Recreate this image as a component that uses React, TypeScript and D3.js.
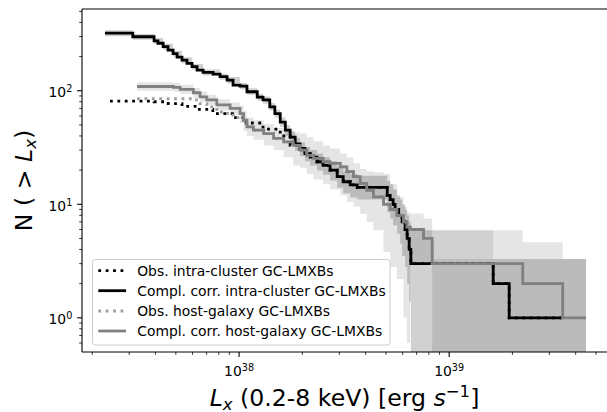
import React from 'react';
import * as d3 from 'd3';

// ---------- data (L in erg/s, N = cumulative number) ----------
const intraCorrL = [2.30e37, 3.12e37, 3.94e37, 4.11e37, 4.35e37, 4.59e37, 4.85e37, 5.07e37, 5.35e37, 5.65e37, 5.97e37, 6.31e37, 6.74e37, 7.52e37, 8.12e37, 8.77e37, 9.36e37, 1.01e38, 1.09e38, 1.22e38, 1.30e38, 1.40e38, 1.48e38, 1.57e38, 1.66e38, 1.75e38, 1.85e38, 1.95e38, 2.06e38, 2.18e38, 2.35e38, 2.51e38, 2.71e38, 2.93e38, 3.13e38, 3.38e38, 3.65e38, 5.07e38, 5.24e38, 5.41e38, 5.53e38, 5.75e38, 5.97e38, 6.17e38, 6.31e38, 6.45e38, 6.57e38, 1.62e39, 1.93e39, 3.45e39];
const intraCorrN = [322, 299, 275, 262, 245, 228, 212, 198, 186, 174, 163, 152, 145, 140, 133, 124, 112, 110, 98, 88, 83, 72, 63, 53, 45, 39, 34, 31, 28, 26, 23.7, 22, 20, 17.5, 15.8, 14.8, 14.1, 12, 11, 10, 9, 8, 7, 6, 5, 4, 3, 2, 1, 1];

const intraObsL = [2.43e37, 3.94e37, 4.6e37, 5.35e37, 6.3e37, 7.5e37, 9.3e37, 1.08e38, 1.3e38, 1.57e38, 1.75e38, 1.95e38, 2.18e38, 2.35e38, 2.51e38, 2.71e38, 2.93e38, 3.13e38, 3.38e38, 3.65e38, 5.07e38, 5.24e38, 5.41e38, 5.53e38, 5.75e38, 5.97e38, 6.17e38, 6.31e38, 6.45e38, 6.57e38, 1.62e39, 1.93e39, 3.45e39];
const intraObsN = [81, 80, 77, 73, 68.5, 63, 58, 52, 46, 40, 33, 29, 26, 23.7, 22, 20, 17.5, 15.8, 14.8, 14.1, 12, 11, 10, 9, 8, 7, 6, 5, 4, 3, 2, 1, 1];

const hostCorrL = [3.27e37, 4.87e37, 5.24e37, 6.06e37, 6.52e37, 7.02e37, 7.83e37, 9.06e37, 1.01e38, 1.05e38, 1.09e38, 1.17e38, 1.31e38, 1.46e38, 1.63e38, 1.81e38, 1.95e38, 2.1e38, 2.26e38, 2.51e38, 2.71e38, 3.03e38, 3.26e38, 3.5e38, 3.77e38, 4.05e38, 4.36e38, 4.87e38, 5.24e38, 5.63e38, 6.06e38, 6.29e38, 6.52e38, 7.55e38, 8.3e38, 2.24e39, 3.47e39, 4.48e39];
const hostCorrN = [109, 107, 103, 96, 88.5, 83, 75, 70, 63, 55, 48, 45, 42, 38, 35.5, 33, 30, 27, 25.4, 23.7, 22.9, 21.4, 19.4, 17.5, 15.3, 13.3, 11.6, 10, 9, 8, 7, 6.3, 6, 5, 3, 2, 1, 1];

const hostObsL = [3.27e37, 6.06e37, 6.52e37, 7.02e37, 7.83e37, 8.8e37, 9.4e37, 1.05e38, 1.09e38, 1.17e38, 1.31e38, 1.46e38, 1.63e38, 1.81e38, 1.95e38, 2.1e38, 2.26e38, 2.51e38, 2.71e38, 3.03e38, 3.26e38, 3.5e38, 3.77e38, 4.05e38, 4.36e38, 4.87e38, 5.24e38, 5.63e38, 6.06e38, 6.29e38, 6.52e38, 7.55e38, 8.3e38, 2.24e39, 3.47e39, 4.48e39];
const hostObsN = [85, 83, 77, 72, 65, 61, 58, 55, 48, 45, 42, 38, 35.5, 33, 30, 27, 25.4, 23.7, 22.9, 21.4, 19.4, 17.5, 15.3, 13.3, 11.6, 10, 9, 8, 7, 6.3, 6, 5, 3, 2, 1, 1];

// confidence bands (lower / upper N)
const intraBandL = [2.30e37, 3.12e37, 3.94e37, 4.35e37, 4.85e37, 5.35e37, 5.97e37, 6.74e37, 8.12e37, 8.77e37, 1.01e38, 1.09e38, 1.22e38, 1.30e38, 1.40e38, 1.48e38, 1.57e38, 1.66e38, 1.75e38, 1.85e38, 1.95e38, 2.06e38, 2.18e38, 2.35e38, 2.51e38, 2.71e38, 2.93e38, 3.13e38, 3.38e38, 3.65e38, 5.07e38, 5.24e38, 5.41e38, 5.65e38, 5.84e38, 5.97e38, 6.17e38, 6.31e38, 6.45e38, 6.57e38, 1.62e39, 4.48e39];
const intraBandLo = [302, 281, 258, 230, 199, 175, 153, 136, 125, 116, 103, 92, 82, 77, 67, 58, 48, 40, 34, 29.5, 26.5, 24, 22, 19.8, 18.2, 16.2, 14, 12.5, 11.5, 11, 8.5, 7.5, 6.5, 5.5, 4.5, 3.5, 2.8, 2.0, 1.4, 0.1, 0.1, 0.1];
const intraBandHi = [342, 317, 292, 260, 225, 197, 172, 154, 141, 132, 117, 105, 94, 89, 78, 68, 58, 50, 44, 38.5, 35, 32, 30, 28, 26, 24, 21.5, 19.5, 18.5, 17.8, 16, 15, 13.5, 12, 11, 10, 9, 8, 7, 5.92, 3.3, 3.3];

const hostBandL = [3.27e37, 4.87e37, 5.24e37, 6.06e37, 6.52e37, 7.02e37, 7.83e37, 9.06e37, 1.01e38, 1.05e38, 1.09e38, 1.17e38, 1.31e38, 1.46e38, 1.63e38, 1.81e38, 1.95e38, 2.1e38, 2.26e38, 2.51e38, 2.71e38, 3.03e38, 3.26e38, 3.5e38, 3.77e38, 4.05e38, 4.36e38, 4.87e38, 5.24e38, 5.63e38, 6.06e38, 6.29e38, 6.52e38, 7.55e38, 8.3e38, 1.62e39, 2.24e39, 3.47e39, 4.48e39];
const hostBandLo = [100, 98, 94, 87, 80, 75, 67, 62, 52, 44, 40, 37, 33, 30, 26, 22, 21, 18.5, 16.5, 15, 13.5, 12, 10.5, 9.5, 8.2, 7, 5.9, 3.8, 2.8, 2.2, 1.0, 0.6, 3.0, 3.0, 0.1, 0.1, 0.1, 0.1, 0.1];
const hostBandHi = [119, 117, 113, 106, 98, 92, 84, 79, 74, 66, 58, 55, 51, 47, 45, 43, 42, 39, 36, 33, 31, 28, 26, 23, 20.5, 19.5, 19.2, 18.5, 15, 11.6, 9.5, 8.5, 8.3, 7.5, 3.3, 5.92, 4.64, 3.3, 3.3];

const xMajor = [1e38, 1e39];
const xMajorExp = ['38', '39'];
const yMajor = [1, 10, 100];
const yMajorExp = ['0', '1', '2'];

const legendLabels = [
  'Obs. intra-cluster GC-LMXBs',
  'Compl. corr. intra-cluster GC-LMXBs',
  'Obs. host-galaxy GC-LMXBs',
  'Compl. corr. host-galaxy GC-LMXBs',
];

// ---------- layout ----------
const W = 607, H = 412;
const PL = 82, PR = 608, PT = 9, PB = 352;
const FONT = 'DejaVu Sans';

export default function App() {
  const x = d3.scaleLog().domain([1.788e37, 5.7e39]).range([PL, PR]);
  const y = d3.scaleLog().domain([0.5, 525]).range([PB, PT]);

  const stepLine = (Ls: number[], Ns: number[]) =>
    d3.line<number>()
      .x((i) => x(Ls[i]))
      .y((i) => y(Ns[i]))
      .curve(d3.curveStepAfter)(Ls.map((_, i) => i)) as string;

  const stepArea = (Ls: number[], lo: number[], hi: number[]) =>
    d3.area<number>()
      .x((i) => x(Ls[i]))
      .y0((i) => y(lo[i]))
      .y1((i) => y(hi[i]))
      .curve(d3.curveStepAfter)(Ls.map((_, i) => i)) as string;

  const [x0, x1] = x.domain();
  const xMinor: number[] = [];
  for (let e = 37; e <= 39; e++) for (let m = 2; m <= 9; m++) {
    const v = m * Math.pow(10, e);
    if (v > x0 && v < x1) xMinor.push(v);
  }
  const yMinor: number[] = [];
  for (let e = -1; e <= 2; e++) for (let m = 2; m <= 9; m++) {
    const v = m * Math.pow(10, e);
    if (v > 0.5 && v < 525) yMinor.push(v);
  }

  const lw = 2.8;

  const legendRows = [270.7, 290.7, 311, 331];
  const legendStyles = [
    { stroke: '#000', dash: '2.8 4.6' },
    { stroke: '#000', dash: null },
    { stroke: '#a0a0a0', dash: '2.8 4.6' },
    { stroke: '#808080', dash: null },
  ];

  return (
    <div style={{ position: 'absolute', left: 0, top: 0 }}>
      <svg width={W} height={H} style={{ display: 'block', fontFamily: FONT }}>
        <defs>
          <clipPath id="plotclip">
            <rect x={PL} y={PT} width={PR - PL} height={PB - PT} />
          </clipPath>
        </defs>
        <rect x={0} y={0} width={W} height={H} fill="#fff" />
        <g clipPath="url(#plotclip)">
          <path d={stepArea(hostBandL, hostBandLo, hostBandHi)} fill="#000" fillOpacity={0.1} stroke="none" />
          <path d={stepArea(intraBandL, intraBandLo, intraBandHi)} fill="#000" fillOpacity={0.18} stroke="none" />
          <path d={stepLine(intraCorrL, intraCorrN)} fill="none" stroke="#000" strokeWidth={lw} />
          <path d={stepLine(intraObsL, intraObsN)} fill="none" stroke="#000" strokeWidth={lw} strokeDasharray="2.8 4.6" />
          <path d={stepLine(hostObsL, hostObsN)} fill="none" stroke="#a0a0a0" strokeWidth={lw} strokeDasharray="2.8 4.6" />
          <path d={stepLine(hostCorrL, hostCorrN)} fill="none" stroke="#808080" strokeWidth={lw} />
        </g>

        {/* spines */}
        <line x1={PL} x2={PL} y1={PT} y2={PB} stroke="#000" strokeWidth={1.1} />
        <line x1={PL} x2={PR} y1={PT} y2={PT} stroke="#000" strokeWidth={1.1} />
        <line x1={PL} x2={PR} y1={PB} y2={PB} stroke="#000" strokeWidth={1.1} />

        {/* x ticks */}
        {xMinor.map((v) => (
          <line key={'xm' + v} x1={x(v)} x2={x(v)} y1={PB} y2={PB + 2.8} stroke="#000" strokeWidth={0.8} />
        ))}
        {xMajor.map((v, i) => (
          <g key={'xM' + v}>
            <line x1={x(v)} x2={x(v)} y1={PB} y2={PB + 4.9} stroke="#000" strokeWidth={1.1} />
            <text x={x(v)} y={376} textAnchor="middle" fontSize={13.9} fill="#000">
              10<tspan dy={-5.2} fontSize={9.7}>{xMajorExp[i]}</tspan>
            </text>
          </g>
        ))}

        {/* y ticks */}
        {yMinor.map((v) => (
          <line key={'ym' + v} x1={PL - 2.8} x2={PL} y1={y(v)} y2={y(v)} stroke="#000" strokeWidth={0.8} />
        ))}
        {yMajor.map((v, i) => (
          <g key={'yM' + v}>
            <line x1={PL - 4.9} x2={PL} y1={y(v)} y2={y(v)} stroke="#000" strokeWidth={1.1} />
            <text x={72.3} y={y(v) + 6.6} textAnchor="end" fontSize={13.9} fill="#000">
              10<tspan dy={-5.2} fontSize={9.7}>{yMajorExp[i]}</tspan>
            </text>
          </g>
        ))}

        {/* axis labels */}
        <text x={344.5} y={406} textAnchor="middle" fontSize={23.6} fill="#000" style={{ whiteSpace: 'pre' }}>
          <tspan fontStyle="italic">L</tspan>
          <tspan fontStyle="italic" fontSize={16.5} dy={3.5}>x</tspan>
          <tspan dy={-3.5}>{' (0.2-8 keV) [erg '}</tspan>
          <tspan fontStyle="italic">s</tspan>
          <tspan fontSize={16.5} dy={-9.5}>{'\u22121'}</tspan>
          <tspan dy={9.5}>]</tspan>
        </text>
        <text transform={`translate(32,180.5) rotate(-90)`} textAnchor="middle" fontSize={23.6} fill="#000" style={{ whiteSpace: 'pre' }}>
          <tspan>{'N ( > '}</tspan>
          <tspan fontStyle="italic">L</tspan>
          <tspan fontStyle="italic" fontSize={16.5} dy={3.5}>x</tspan>
          <tspan dy={-3.5}>)</tspan>
        </text>

        {/* legend */}
        <rect x={92.5} y={259.5} width={297.5} height={85.5} rx={2.8} ry={2.8} fill="#fff" fillOpacity={0.8} stroke="#cccccc" strokeWidth={1} />
        {legendLabels.map((lab, i) => (
          <g key={lab}>
            <line x1={98.3} x2={126.1} y1={legendRows[i]} y2={legendRows[i]} stroke={legendStyles[i].stroke} strokeWidth={lw}
              strokeDasharray={legendStyles[i].dash || undefined} />
            <text x={137.2} y={legendRows[i] + 5} fontSize={13.9} fill="#000">{lab}</text>
          </g>
        ))}
      </svg>
    </div>
  );
}
